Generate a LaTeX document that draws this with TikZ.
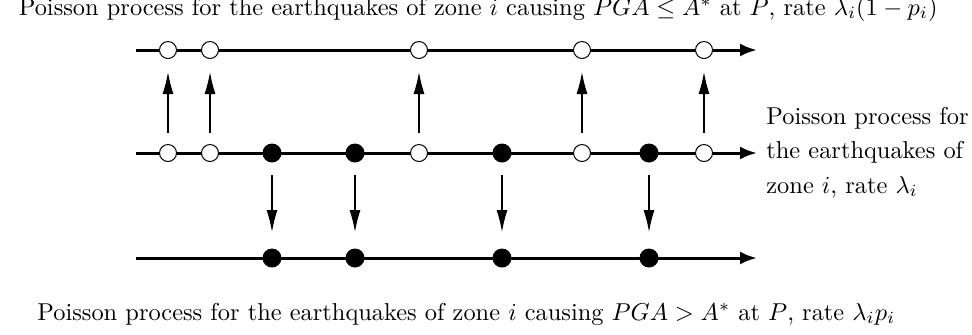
\documentclass[tikz,border=0pt]{standalone}
\usepackage{graphicx}
\usetikzlibrary{arrows.meta}
\newcommand{\bigtxt}[1]{\scalebox{1.22}{#1}}
\begin{document}
\begin{tikzpicture}[x=0.5pt,y=-0.5pt,
  hline/.style={line width=1.5pt,-{Latex[length=8.5pt,width=6.5pt]}},
  vline/.style={line width=0.6pt,-{Latex[length=11pt,width=5.5pt]}},
  opendot/.style={circle,draw,line width=0.5pt,fill=white,minimum size=8.5pt,inner sep=0pt},
  fulldot/.style={circle,fill=black,minimum size=9.5pt,inner sep=0pt},
  lbl/.style={inner sep=0pt}]
\useasboundingbox (0,0) rectangle (972,334);
% lines
\coordinate (ts) at (136,50);  \coordinate (te) at (757,50);
\coordinate (ms) at (136,153); \coordinate (me) at (757,153);
\coordinate (bs) at (136,258); \coordinate (be) at (757,258);
\draw[hline] (ts) -- (te);
\draw[hline] (ms) -- (me);
\draw[hline] (bs) -- (be);
% events kept on the top line
\foreach \n/\x in {1/168,2/210,3/419,4/582,5/704}{
  \node[opendot] (mo\n) at (\x,153) {};
  \node[opendot] (to\n) at (\x,50) {};
  \draw[vline] ([yshift=10pt]mo\n.center) -- ([yshift=-11pt]to\n.center);
}
% events moved to the bottom line
\foreach \n/\x in {1/272,2/355,3/502,4/649}{
  \node[fulldot] (mf\n) at (\x,153) {};
  \node[fulldot] (bf\n) at (\x,258) {};
  \draw[vline] ([yshift=-11pt]mf\n.center) -- ([yshift=13pt]bf\n.center);
}
% labels
\node[lbl,anchor=base east] (toptxt) at (938,15) {\bigtxt{Poisson process for the earthquakes of zone $i$ causing $PGA\le A^*$ at $P$, rate $\lambda_i(1-p_i)$}};
\node[lbl,anchor=base west] (bottxt) at (37,320) {\bigtxt{Poisson process for the earthquakes of zone $i$ causing $PGA> A^*$ at $P$, rate $\lambda_i p_i$}};
\node[lbl,anchor=west] (righttxt) at (766,153) {\bigtxt{\begin{tabular}{@{}l@{}}Poisson process for\\[2.1pt] the earthquakes of\\[2.1pt] zone $i$, rate $\lambda_i$\end{tabular}}};
\end{tikzpicture}
\end{document}
